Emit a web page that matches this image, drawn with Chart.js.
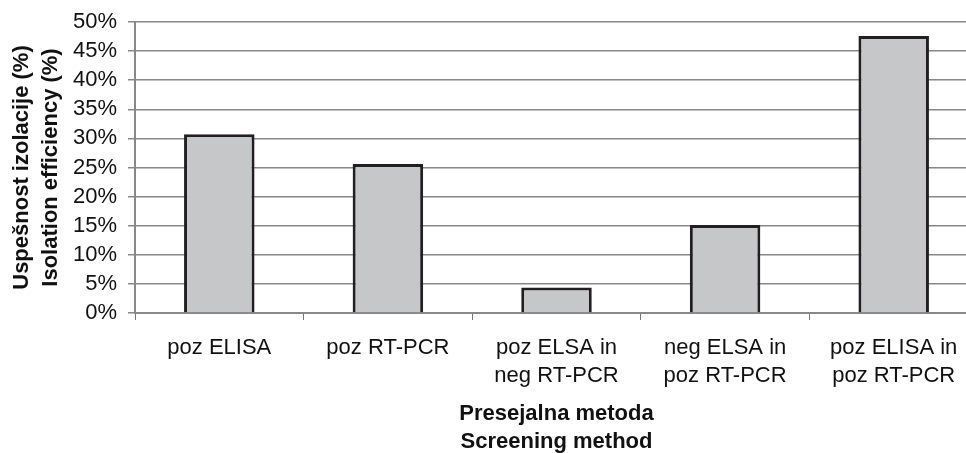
<!DOCTYPE html>
<html>
<head>
<meta charset="utf-8">
<script src="https://cdn.jsdelivr.net/npm/chart.js@4"></script>
<style>
  html, body { margin: 0; padding: 0; background: #fff; overflow: hidden; }
</style>
</head>
<body>
<canvas id="myChart" width="978" height="456"></canvas>
<script>
var categories = ['poz ELISA', 'poz RT-PCR', ['poz ELSA in', 'neg RT-PCR'], ['neg ELSA in', 'poz RT-PCR'], ['poz ELISA in', 'poz RT-PCR']];
var isolationEfficiency = [30.7, 25.6, 4.4, 15.1, 47.6];
var yTitle = ['Uspešnost izolacije (%)', 'Isolation efficiency (%)'];
var xTitle = ['Presejalna metoda', 'Screening method'];

// osi v Arial-u
var font = 'Liberation Sans, Arial, sans-serif';

var ctx = document.getElementById('myChart').getContext('2d');

var myChart = new Chart(ctx, {
    type: 'bar',
    data: {
        labels: categories,
        datasets: [{
            data: isolationEfficiency,
            backgroundColor: '#c6c7c9',
            borderColor: '#231f20',
            borderWidth: 3,
            categoryPercentage: 0.82,
            barPercentage: 0.51
        }]
    },
    options: {
        responsive: false,
        animation: false,
        layout: { padding: { top: 21, left: 0, right: 0, bottom: 0 } },
        plugins: {
            legend: { display: false },
            tooltip: { enabled: false }
        },
        scales: {
            x: {
                grid: {
                    offset: true,
                    drawOnChartArea: false,
                    color: '#777',
                    tickLength: 7
                },
                border: { color: '#888', width: 2 },
                ticks: {
                    color: '#111',
                    font: { family: font, size: 22, lineHeight: 1.27 },
                    maxRotation: 0,
                    padding: 14
                },
                title: {
                    display: true,
                    text: xTitle,
                    color: '#111',
                    font: { family: font, size: 22, weight: 'bold', lineHeight: 1.27 },
                    padding: { top: 0, bottom: 0 }
                },
                afterFit: function (s) { s.height = 143; }
            },
            y: {
                min: 0,
                max: 50,
                grid: {
                    color: '#888',
                    lineWidth: 1.5,
                    tickLength: 7
                },
                border: { color: '#888', width: 2 },
                ticks: {
                    stepSize: 5,
                    autoSkip: false,
                    color: '#111',
                    padding: 11,
                    font: { family: font, size: 22, lineHeight: 1 },
                    callback: function (v) { return v + '%'; }
                },
                title: {
                    display: true,
                    text: yTitle,
                    color: '#111',
                    font: { family: font, size: 22, weight: 'bold', lineHeight: 1.34 },
                    padding: { top: 7, bottom: 0 }
                },
                afterFit: function (s) { s.width = 135; }
            }
        }
    }
});
</script>
</body>
</html>
